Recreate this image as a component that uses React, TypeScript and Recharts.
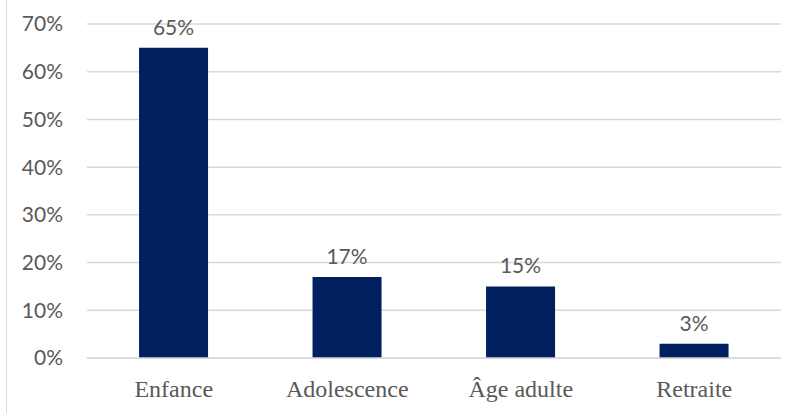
import { BarChart, Bar, XAxis, YAxis, CartesianGrid, LabelList } from 'recharts';

const CATEGORIES = ['Enfance', 'Adolescence', 'Âge adulte', 'Retraite'];
const SHARES = [65, 17, 15, 3];
const Y_TICKS = [0, 10, 20, 30, 40, 50, 60, 70];

const data = CATEGORIES.map((name, i) => ({ name, value: SHARES[i] }));

const TEXT_GRAY = '#595959';
const GRID_GRAY = '#d9d9d9';
const SANS = 'Lato, "Open Sans", sans-serif';
const SERIF = '"Liberation Serif", serif';

export default function App() {
  return (
    <div style={{ position: 'absolute', left: 0, top: 0, width: 806, height: 413, background: '#fff' }}>
      <div
        style={{
          position: 'absolute',
          left: 6,
          top: 0,
          height: 413,
          borderLeft: `1.5px solid ${GRID_GRAY}`,
        }}
      />
      <BarChart
        width={806}
        height={413}
        data={data}
        margin={{ top: 24, right: 25, bottom: 0, left: 0 }}
        barCategoryGap="30%"
      >
        <CartesianGrid vertical={false} stroke={GRID_GRAY} strokeWidth={1.5} />
        <XAxis
          dataKey="name"
          height={55}
          axisLine={{ stroke: GRID_GRAY, strokeWidth: 1.5 }}
          tickLine={false}
          tickSize={0}
          tickMargin={22}
          tick={{ fill: TEXT_GRAY, fontSize: 24, fontFamily: SERIF }}
        />
        <YAxis
          domain={[0, 70]}
          ticks={Y_TICKS}
          width={87}
          axisLine={false}
          tickLine={false}
          tickSize={0}
          tickMargin={24}
          tickFormatter={(v: number) => `${v}%`}
          tick={{ fill: TEXT_GRAY, fontSize: 21, fontFamily: SANS }}
        />
        <Bar dataKey="value" fill="#002060" isAnimationActive={false}>
          <LabelList
            dataKey="value"
            position="top"
            offset={13}
            formatter={(v: number) => `${v}%`}
            style={{ fill: TEXT_GRAY, fontSize: 21, fontFamily: SANS }}
          />
        </Bar>
      </BarChart>
    </div>
  );
}
